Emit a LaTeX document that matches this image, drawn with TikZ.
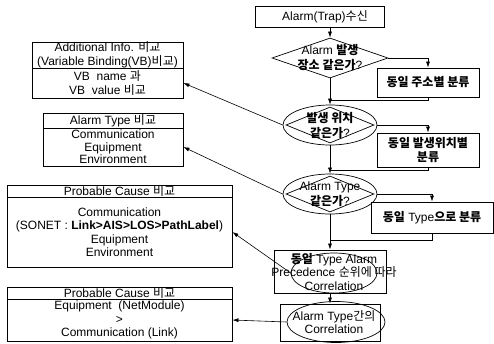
\documentclass[tikz,border=0pt]{standalone}
\usepackage{fontspec}
\setmainfont{Liberation Sans}
\newfontfamily\kr{Noto Sans CJK KR}
\usetikzlibrary{shapes.geometric,arrows.meta}
\newcommand\K[1]{{\kr #1}}
\newcommand\KB[1]{{\kr\bfseries #1}}
\begin{document}
\begin{tikzpicture}[x=1pt,y=-1pt,
  font=\fontsize{12}{13.5}\selectfont,
  box/.style={draw, line width=0.9pt, inner sep=0pt},
  dia/.style={draw, diamond, line width=0.7pt, inner sep=0pt},
  ell/.style={draw, ellipse, line width=0.7pt, inner sep=0pt},
  txt/.style={inner sep=0pt, align=center},
  arr/.style={line width=0.6pt, -{Latex[length=6pt,width=4pt]}},
  ln/.style={line width=0.6pt}]
\useasboundingbox (0,0) rectangle (494,343);

% main flow
\node[box, minimum width=129pt, minimum height=21pt] (top) at (319.5,17) {};
\node[txt] (topt) at (325,17) {Alarm(Trap)\K{수신}};
\coordinate (topb) at (330,27.5);

\node[dia, minimum width=116pt, minimum height=40pt] (d1) at (330,58) {};
\node[txt, font=\fontsize{12}{15}\selectfont] (d1t) at (d1) {Alarm \KB{발생}\\\KB{장소 같은가}?};

\node[box, minimum width=102pt, minimum height=29pt] (b1) at (428,82.5) {\KB{동일 주소별 분류}};

\node[ell, minimum width=94pt, minimum height=40pt] (e2) at (330,125) {};
\node[dia, minimum width=88pt, minimum height=36pt] (d2) at (e2) {};
\node[txt, font=\fontsize{12}{15}\selectfont] (e2t) at (e2) {\KB{발생 위치}\\\KB{같은가}?};

\node[box, minimum width=102pt, minimum height=34pt] (b2) at (428,150) {};
\node[txt] (b2t) at (b2) {\KB{동일 발생위치별}\\\KB{분류}};

\node[ell, minimum width=94pt, minimum height=40pt] (e3) at (330,194) {};
\node[dia, minimum width=88pt, minimum height=36pt] (d3) at (e3) {};
\node[txt, font=\fontsize{12}{15}\selectfont] (e3t) at (e3) {Alarm Type\\\KB{같은가}?};

\node[box, minimum width=122pt, minimum height=31pt] (b3) at (432,217.5) {\KB{동일} Type\KB{으로 분류}};

\node[box, minimum width=112pt, minimum height=43pt] (b4) at (330,271.5) {};
\node[ell, minimum width=86pt, minimum height=40pt] (e4) at (334,273) {};
\node[txt] (b4t) at (334,271.5) {\KB{동일} Type Alarm\\Precedence \K{순위에 따라}\\Correlation};

\node[box, minimum width=100pt, minimum height=37pt] (b5) at (330,322.5) {};
\node[ell, minimum width=98pt, minimum height=41pt] (e5) at (336,322) {};
\node[txt] (b5t) at (334,322) {Alarm Type\K{간의}\\Correlation};

% junctions
\coordinate (j1) at (330,100);
\coordinate (j2) at (330,170);
\coordinate (j3) at (330,240);

\draw[arr] (topb) -- (d1.north);
\draw[arr] (d1.east) -| (b1.north);
\draw[arr] (d1.south) -- (e2.north);
\draw[ln] (b1.south) |- (j1);
\draw[arr] (e2.east) -| (b2.north);
\draw[arr] (e2.south) -- (e3.north);
\draw[ln] (b2.south) |- (j2);
\draw[arr] (e3.east) -| (b3.north);
\draw[arr] (e3.south) -- (b4.north);
\draw[ln] (b3.south) |- (j3);
\draw[arr] (b4.south) -- (b5.north);

% left boxes
\node[box, minimum width=151pt, minimum height=26pt] (Ah) at (107.5,55) {};
\node[txt] (Aht) at (Ah) {Additional Info. \K{비교}\\(Variable Binding(VB)\K{비교})};
\node[box, minimum width=151pt, minimum height=30pt] (Ab) at (107.5,83) {};
\node[txt] (Abt) at (Ab) {VB\ \ name \K{과}\\VB\ \ value \K{비교}};

\node[box, minimum width=140pt, minimum height=15pt] (Bh) at (113,120.5) {};
\node[txt] (Bht) at (Bh) {Alarm Type \K{비교}};
\node[box, minimum width=140pt, minimum height=38pt] (Bb) at (113,147) {};
\node[txt, font=\fontsize{12}{12.5}\selectfont] (Bbt) at (Bb) {Communication\\Equipment\\Environment};

\node[box, minimum width=225pt, minimum height=12pt] (Ch) at (119.5,191) {};
\node[txt] (Cht) at (Ch) {Probable Cause \K{비교}};
\node[box, minimum width=225pt, minimum height=70pt] (Cb) at (119.5,232) {};
\node[txt] (Cbt) at (Cb) {Communication\\(SONET : \textbf{Link>AIS>LOS>PathLabel})\\Equipment\\Environment};

\node[box, minimum width=225pt, minimum height=12pt] (Dh) at (119.5,293) {};
\node[txt] (Dht) at (Dh) {Probable Cause \K{비교}};
\node[box, minimum width=225pt, minimum height=42pt] (Db) at (119.5,320) {};
\node[txt] (Dbt) at (Db) {Equipment\ \ (NetModule)\\>\\Communication (Link)};

\draw[arr] (e2.west) -- (Ab.east);
\draw[arr] (e3.west) -- (Bb.east);
\draw[arr] (e4.west) -- (Cb.east);
\draw[arr] (e5.west) -- (Db.east);
\end{tikzpicture}
\end{document}
